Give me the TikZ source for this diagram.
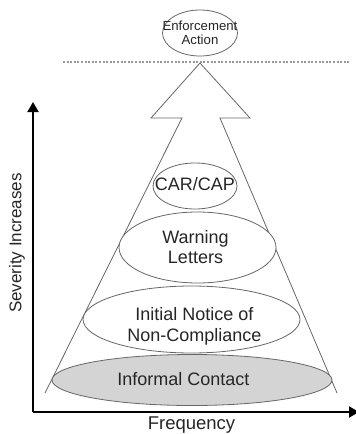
\documentclass[tikz,border=0pt]{standalone}
\usepackage{fontspec}
\setmainfont{Liberation Sans}
\usetikzlibrary{shapes.geometric,arrows.meta,positioning}

\begin{document}
\begin{tikzpicture}[x=1pt,y=-1pt,
        level/.style={ellipse,draw=black!60,line width=0.8pt,fill=white,inner sep=0pt},
        tag/.style={align=center,text=black!85,font=\fontsize{18}{21}\selectfont},
        axis/.style={line width=2pt,-{Triangle[length=10pt,width=11pt]}}]
            \useasboundingbox (0,0) rectangle (356,434);
            % cone with the arrow on top
            \coordinate (tip) at (200,63);
            \coordinate (l_head) at (151,118);
            \coordinate (l_neck) at (182,118);
            \coordinate (l_foot) at (45,393);
            \coordinate (r_head) at (250,118);
            \coordinate (r_neck) at (220,118);
            \coordinate (r_foot) at (337,393);
            \draw[black!60,line width=0.8pt]
                (l_foot) -- (l_neck) -- (l_head) -- (tip) -- (r_head) -- (r_neck) -- (r_foot);
            \coordinate (d_start) at (63,62);
            \coordinate (d_end) at (350,62);
            \draw[black!40,line width=1.3pt,dash pattern=on 2pt off 1.6pt] (d_start) -- (d_end);
            % levels
            \node[level, minimum width=75pt, minimum height=46pt,
                  label={[tag,font=\fontsize{13.2}{13.5}\selectfont]center:Enforcement\\Action}]
                  (enforcement) at (200,33) {};
            \node[level, minimum width=84pt, minimum height=46pt,
                  label={[tag,yshift=2pt]center:CAR/CAP}] (car_cap) at (195,186) {};
            \node[level, minimum width=157pt, minimum height=71pt,
                  label={[tag,font=\fontsize{18}{20}\selectfont,xshift=-2pt]center:Warning\\Letters}]
                  (warning) at (197.5,247.5) {};
            \node[level, minimum width=217pt, minimum height=67pt,
                  label={[tag,xshift=3pt,yshift=-7pt]center:Initial Notice of\\Non-Compliance}]
                  (notice) at (191.5,319.5) {};
            \node[level, fill=black!17, minimum width=280pt, minimum height=51pt,
                  label={[tag,xshift=-8.5pt,yshift=1pt]center:Informal Contact}]
                  (informal) at (192,380) {};
            % axes
            \coordinate (origin) at (33,412);
            \coordinate (y_end) at (33,102);
            \coordinate (x_end) at (359,412);
            \draw[axis] (origin) -- (y_end);
            \draw[axis] (origin) -- (x_end);
            \node[tag,font=\fontsize{17}{20}\selectfont,rotate=90] (severity) at (17,243) {Severity Increases};
            \node[tag,font=\fontsize{18.5}{21}\selectfont] (frequency) at (191.5,425) {Frequency};
        \end{tikzpicture}
\end{document}
